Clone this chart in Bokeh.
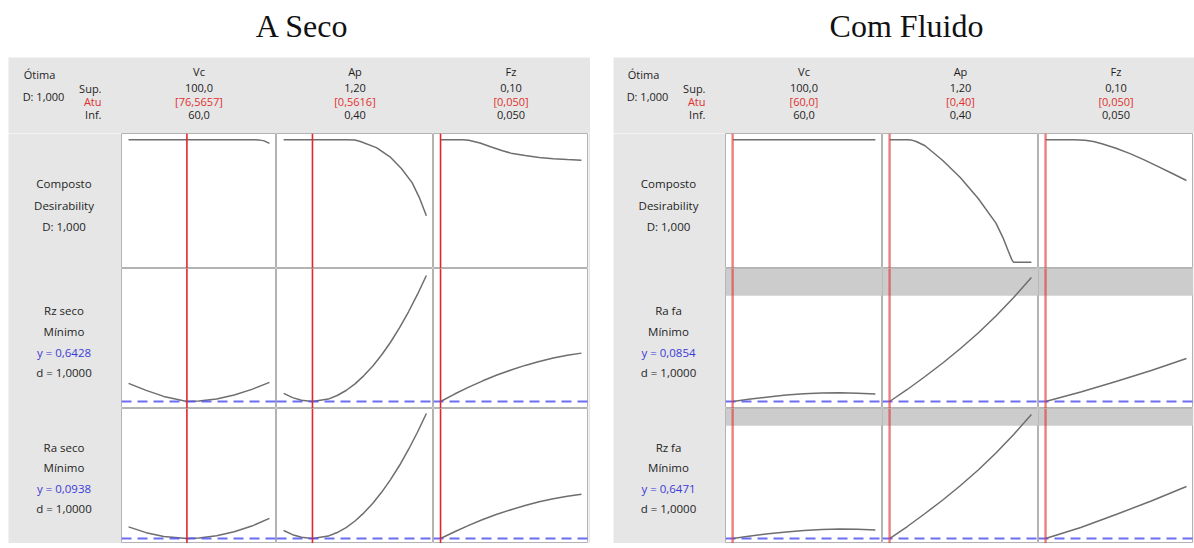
from bokeh.plotting import figure
from bokeh.models import Range1d, Span, BoxAnnotation, Spacer
from bokeh.layouts import column, row
from bokeh.embed import file_html
from bokeh.resources import INLINE
from bokeh.core.properties import value

# ---------------- data ----------------
titles = ["A Seco", "Com Fluido"]
factors = ["Vc", "Ap", "Fz"]
factor_sup = ["100,0", "1,20", "0,10"]
factor_inf = ["60,0", "0,40", "0,050"]
factor_lo = [60.0, 0.40, 0.050]
factor_hi = [100.0, 1.20, 0.10]

# ---- A Seco ----
seco_atu = ["[76,5657]", "[0,5616]", "[0,050]"]
seco_opt = [76.5657, 0.5616, 0.050]
seco_resp = ["Rz seco", "Ra seco"]
seco_yopt = [0.6428, 0.0938]
seco_ylab = ["y = 0,6428", "y = 0,0938"]

seco_D_vc_x = [60, 70, 80, 90, 95, 97, 98.5, 100]
seco_D_vc_y = [1, 1, 1, 1, 1, 0.998, 0.99, 0.97]
seco_D_ap_x = [0.40, 0.60, 0.75, 0.80, 0.83, 0.92, 1.00, 1.06, 1.12, 1.16, 1.20]
seco_D_ap_y = [1, 1, 1, 0.997, 0.985, 0.935, 0.855, 0.765, 0.65, 0.53, 0.38]
seco_D_fz_x = [0.050, 0.058, 0.060, 0.064, 0.068, 0.072, 0.075, 0.080, 0.085, 0.090, 0.095, 0.100]
seco_D_fz_y = [1.0, 1.0, 0.995, 0.972, 0.94, 0.91, 0.89, 0.87, 0.855, 0.845, 0.838, 0.833]

seco_rz_vc_x = [60, 65, 70, 76.5657, 80, 85, 90, 95, 100]
seco_rz_vc_y = [0.851, 0.770, 0.701, 0.6428, 0.649, 0.672, 0.718, 0.782, 0.862]
seco_rz_ap_x = [0.40, 0.45, 0.50, 0.5616, 0.65, 0.70, 0.75, 0.80, 0.85, 0.90, 0.95, 1.00, 1.05, 1.10, 1.15, 1.20]
seco_rz_ap_y = [0.735, 0.687, 0.657, 0.6428, 0.670, 0.711, 0.769, 0.845, 0.940, 1.051, 1.179, 1.326, 1.490, 1.673, 1.872, 2.089]
seco_rz_fz_x = [0.050, 0.055, 0.060, 0.065, 0.070, 0.075, 0.080, 0.085, 0.090, 0.095, 0.100]
seco_rz_fz_y = [0.6428, 0.728, 0.807, 0.880, 0.946, 1.004, 1.057, 1.102, 1.141, 1.173, 1.198]

seco_ra_vc_x = [60, 65, 70, 76.5657, 80, 85, 90, 95, 100]
seco_ra_vc_y = [0.122, 0.108, 0.0985, 0.0938, 0.0948, 0.1003, 0.1100, 0.1240, 0.1428]
seco_ra_ap_x = [0.40, 0.45, 0.50, 0.5616, 0.65, 0.70, 0.75, 0.80, 0.85, 0.90, 0.95, 1.00, 1.05, 1.10, 1.15, 1.20]
seco_ra_ap_y = [0.1131, 0.1031, 0.0966, 0.0938, 0.0996, 0.1082, 0.1204, 0.1363, 0.1562, 0.1796, 0.2067, 0.2376, 0.2719, 0.3103, 0.3522, 0.3978]
seco_ra_fz_x = [0.050, 0.055, 0.060, 0.065, 0.070, 0.075, 0.080, 0.085, 0.090, 0.095, 0.100]
seco_ra_fz_y = [0.0938, 0.1102, 0.1256, 0.1399, 0.1526, 0.1639, 0.1742, 0.1830, 0.1903, 0.1967, 0.2016]

# ---- Com Fluido ----
flu_atu = ["[60,0]", "[0,40]", "[0,050]"]
flu_opt = [60.0, 0.40, 0.050]
flu_resp = ["Ra fa", "Rz fa"]
flu_yopt = [0.0854, 0.6471]
flu_ylab = ["y = 0,0854", "y = 0,6471"]
flu_band = [0.32, 1.88]

flu_D_vc_x = [60, 70, 80, 90, 100]
flu_D_vc_y = [1, 1, 1, 1, 1]
flu_D_ap_x = [0.40, 0.50, 0.52, 0.55, 0.60, 0.70, 0.80, 0.90, 1.00, 1.04, 1.07, 1.09, 1.10, 1.20]
flu_D_ap_y = [1, 1, 0.998, 0.985, 0.95, 0.83, 0.69, 0.52, 0.32, 0.20, 0.09, 0.02, 0.0, 0.0]
flu_D_fz_x = [0.050, 0.060, 0.064, 0.067, 0.070, 0.075, 0.080, 0.085, 0.090, 0.095, 0.100]
flu_D_fz_y = [1, 1, 0.995, 0.985, 0.967, 0.93, 0.886, 0.835, 0.78, 0.724, 0.667]

flu_ra_vc_x = [60, 65, 70, 75, 80, 85, 90, 95, 100]
flu_ra_vc_y = [0.0854, 0.0909, 0.0954, 0.0998, 0.1025, 0.1042, 0.1047, 0.1038, 0.1020]
flu_ra_ap_x = [0.40, 0.50, 0.60, 0.70, 0.80, 0.90, 1.00, 1.10, 1.20]
flu_ra_ap_y = [0.0854, 0.112, 0.1408, 0.1707, 0.2028, 0.2371, 0.2747, 0.3157, 0.36]
flu_ra_fz_x = [0.050, 0.0625, 0.075, 0.0875, 0.100]
flu_ra_fz_y = [0.0854, 0.1064, 0.1297, 0.1541, 0.1806]

flu_rz_vc_x = [60, 65, 70, 75, 80, 85, 90, 95, 100]
flu_rz_vc_y = [0.6471, 0.6744, 0.6984, 0.718, 0.7344, 0.7453, 0.7507, 0.7486, 0.7398]
flu_rz_ap_x = [0.40, 0.50, 0.60, 0.70, 0.80, 0.90, 1.00, 1.10, 1.20]
flu_rz_ap_y = [0.6471, 0.778, 0.9198, 1.0671, 1.2253, 1.3944, 1.5799, 1.7817, 2.0]
flu_rz_fz_x = [0.050, 0.0625, 0.075, 0.0875, 0.100]
flu_rz_fz_y = [0.6471, 0.7671, 0.9089, 1.0562, 1.2144]

# y ranges of each response row (data units)
seco_yrange = [(0.562, 2.17), (0.0816, 0.41)]
flu_yrange = [(0.0699, 0.3799), (0.5926, 2.0655)]

# ---------------- styles / layout sizes ----------------
FONT = value("Open Sans")
GRAY_BG = "#e6e6e6"
CURVE = "#6e6e6e"
RED = "#e3262b"
BLUE = "#5454f2"
TXT = "#1e1e1e"
RED_TXT = "#e0302f"
BLUE_TXT = "#3a3ad6"

ROW_H = [135, 140, 135]
HEADER_H = 76
TITLE_H = 57
BOTTOM_H = 5


def base_fig(w, h, xr, yr, bg):
    p = figure(width=w, height=h, x_range=xr, y_range=yr, title=None,
               toolbar_location=None, output_backend="svg", min_border=0,
               x_axis_type=None, y_axis_type=None)
    p.background_fill_color = bg
    p.border_fill_color = bg
    p.outline_line_color = None
    return p


def make_cell(w, h, k, yr, curve_x, curve_y, opt, red_style, yopt=None, band=None):
    lo, hi = factor_lo[k], factor_hi[k]
    pad = 0.05 * (hi - lo)
    p = base_fig(w, h, Range1d(lo - pad, hi + pad), Range1d(*yr), "white")
    p.outline_line_color = "#b3b3b3"
    p.outline_line_width = 1
    if band is not None:
        p.add_layout(BoxAnnotation(bottom=band, fill_color="#cccccc", fill_alpha=1.0,
                                   line_color="#bdbdbd", line_width=1, level="underlay"))
    p.line(curve_x, curve_y, line_color=CURVE, line_width=1.5)
    if yopt is not None:
        p.add_layout(Span(location=yopt, dimension="width", line_color=BLUE,
                          line_alpha=0.85, line_width=2, line_dash="10 6"))
    p.add_layout(Span(location=opt, dimension="height", **red_style))
    return p


def make_panel(label_w, col_w, right_pad, atu, opt, resp, yopt, ylab, yranges, curves, bands,
               red_style):
    panel_w = label_w + sum(col_w) + right_pad
    grid_h = sum(ROW_H)
    # header
    hd = base_fig(panel_w, HEADER_H, Range1d(0, panel_w), Range1d(HEADER_H, 0), GRAY_BG)
    hd.text(x=[label_w - 82, label_w - 78], y=[17, 39], text=["Ótima", "D: 1,000"],
            text_font=FONT, text_font_size="11px", text_color=TXT,
            text_align="center", text_baseline="middle")
    hd.text(x=[label_w - 20] * 3, y=[31, 44, 57], text=["Sup.", "Atu", "Inf."],
            text_font=FONT, text_font_size="11px", text_color=[TXT, RED_TXT, TXT],
            text_align="right", text_baseline="middle")
    cx = []
    acc = label_w
    for w in col_w:
        cx.append(acc + w / 2)
        acc += w
    for yy, txts, col in [(14, factors, TXT), (30, factor_sup, TXT), (44, atu, RED_TXT),
                          (57, factor_inf, TXT)]:
        hd.text(x=cx, y=[yy] * 3, text=txts, text_font=FONT, text_font_size="11px",
                text_color=col, text_align="center", text_baseline="middle")

    # row labels
    lb = base_fig(label_w, grid_h, Range1d(0, label_w), Range1d(grid_h, 0), GRAY_BG)
    lx = label_w / 2 - 1
    lb.text(x=[lx] * 3, y=[50, 72, 93],
            text=["Composto", "Desirability", "D: 1,000"], text_font=FONT,
            text_font_size="11.5px", text_color=TXT, text_align="center", text_baseline="middle")
    for r in range(2):
        top = sum(ROW_H[: r + 1])
        offs = [42, 63, 84, 104] if r == 0 else [39, 59, 80, 100]
        lb.text(x=[lx] * 4, y=[top + o for o in offs],
                text=[resp[r], "Mínimo", ylab[r], "d = 1,0000"], text_font=FONT,
                text_font_size="11.5px", text_color=[TXT, TXT, BLUE_TXT, TXT],
                text_align="center", text_baseline="middle")

    rows = []
    for r in range(3):
        cells = []
        for k in range(3):
            cx_, cy_ = curves[r][k]
            if r == 0:
                c = make_cell(col_w[k], ROW_H[r], k, (-0.05, 1.05), cx_, cy_, opt[k], red_style)
            else:
                c = make_cell(col_w[k], ROW_H[r], k, yranges[r - 1], cx_, cy_, opt[k], red_style,
                              yopt=yopt[r - 1], band=None if bands is None else bands[r - 1])
            cells.append(c)
        rows.append(row(*cells))
    grid = column(*rows)
    pad_fig = base_fig(right_pad, grid_h, Range1d(0, 1), Range1d(0, 1), GRAY_BG)
    bottom = base_fig(panel_w, BOTTOM_H, Range1d(0, 1), Range1d(0, 1), GRAY_BG)
    return column(hd, row(lb, grid, pad_fig), bottom)


seco_curves = [
    [(seco_D_vc_x, seco_D_vc_y), (seco_D_ap_x, seco_D_ap_y), (seco_D_fz_x, seco_D_fz_y)],
    [(seco_rz_vc_x, seco_rz_vc_y), (seco_rz_ap_x, seco_rz_ap_y), (seco_rz_fz_x, seco_rz_fz_y)],
    [(seco_ra_vc_x, seco_ra_vc_y), (seco_ra_ap_x, seco_ra_ap_y), (seco_ra_fz_x, seco_ra_fz_y)],
]
flu_curves = [
    [(flu_D_vc_x, flu_D_vc_y), (flu_D_ap_x, flu_D_ap_y), (flu_D_fz_x, flu_D_fz_y)],
    [(flu_ra_vc_x, flu_ra_vc_y), (flu_ra_ap_x, flu_ra_ap_y), (flu_ra_fz_x, flu_ra_fz_y)],
    [(flu_rz_vc_x, flu_rz_vc_y), (flu_rz_ap_x, flu_rz_ap_y), (flu_rz_fz_x, flu_rz_fz_y)],
]

left = make_panel(113, [155, 157, 155], 2, seco_atu, seco_opt, seco_resp, seco_yopt, seco_ylab,
                  seco_yrange, seco_curves, None,
                  dict(line_color=RED, line_width=1.6, line_alpha=1.0))
right = make_panel(112, [157, 156, 155], 1, flu_atu, flu_opt, flu_resp, flu_yopt, flu_ylab,
                   flu_yrange, flu_curves, flu_band,
                   dict(line_color="#e33a3a", line_width=2.4, line_alpha=0.65))

TOTAL_W = 1194
tt = base_fig(TOTAL_W, TITLE_H, Range1d(0, TOTAL_W), Range1d(TITLE_H, 0), "white")
tt.text(x=[302, 906], y=[25, 25], text=titles, text_font=value("Liberation Serif"),
        text_font_size="32px", text_color="#111111", text_align="center", text_baseline="middle")

body_h = HEADER_H + sum(ROW_H) + BOTTOM_H
layout = column(tt, row(Spacer(width=8, height=body_h), left,
                        Spacer(width=23, height=body_h), right))

open("out.html", "w").write(file_html(layout, INLINE))
